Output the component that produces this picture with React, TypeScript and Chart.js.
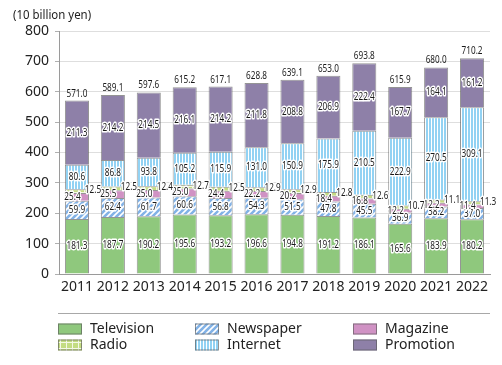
import React, { useEffect, useRef } from "react";
import { Chart, registerables } from "chart.js";
Chart.register(...registerables);

const years = ["2011", "2012", "2013", "2014", "2015", "2016", "2017", "2018", "2019", "2020", "2021", "2022"];
const television = [181.3, 187.7, 190.2, 195.6, 193.2, 196.6, 194.8, 191.2, 186.1, 165.6, 183.9, 180.2];
const newspaper = [59.9, 62.4, 61.7, 60.6, 56.8, 54.3, 51.5, 47.8, 45.5, 36.9, 38.2, 37.0];
const magazine = [25.4, 25.5, 25.0, 25.0, 24.4, 22.2, 20.2, 18.4, 16.8, 12.2, 12.2, 11.4];
const radio = [12.5, 12.5, 12.4, 12.7, 12.5, 12.9, 12.9, 12.8, 12.6, 10.7, 11.1, 11.3];
const internet = [80.6, 86.8, 93.8, 105.2, 115.9, 131.0, 150.9, 175.9, 210.5, 222.9, 270.5, 309.1];
const promotion = [211.3, 214.2, 214.5, 216.1, 214.2, 211.8, 208.8, 206.9, 222.4, 167.7, 164.1, 161.2];
const totals = [571.0, 589.1, 597.6, 615.2, 617.1, 628.8, 639.1, 653.0, 693.8, 615.9, 680.0, 710.2];
const seriesNames = ["Television", "Newspaper", "Magazine", "Radio", "Internet", "Promotion"];
const yTicks = [0, 100, 200, 300, 400, 500, 600, 700, 800];
const unitLabel = "(10 billion yen)";

function tile(w: number, h: number, draw: (c: CanvasRenderingContext2D) => void): CanvasPattern | string {
  const cv = document.createElement("canvas");
  cv.width = w;
  cv.height = h;
  const c = cv.getContext("2d")!;
  draw(c);
  const ctx = document.createElement("canvas").getContext("2d")!;
  return ctx.createPattern(cv, "repeat") || "#888";
}

function drawLabel(ctx: CanvasRenderingContext2D, text: string, x: number, y: number, halo: boolean) {
  ctx.save();
  ctx.translate(x, y);
  ctx.scale(0.78, 1);
  if (halo) {
    ctx.lineWidth = 3;
    ctx.lineJoin = "round";
    ctx.strokeStyle = "#ffffff";
    ctx.strokeText(text, 0, 0);
  }
  ctx.fillStyle = "#1a1a1a";
  ctx.fillText(text, 0, 0);
  ctx.restore();
}

export default function App() {
  const ref = useRef<HTMLCanvasElement>(null);
  useEffect(() => {
    const canvas = ref.current!;
    const tvFill = "#8fc87d";
    const magFill = "#d092c4";
    const promoFill = "#8e80a8";
    const newsFill = tile(6, 6, (c) => {
      c.fillStyle = "#82b2e6";
      c.fillRect(0, 0, 6, 6);
      c.strokeStyle = "#ffffff";
      c.lineWidth = 1.6;
      c.beginPath();
      c.moveTo(0, 6); c.lineTo(6, 0);
      c.moveTo(-1, 1); c.lineTo(1, -1);
      c.moveTo(5, 7); c.lineTo(7, 5);
      c.stroke();
    });
    const netFill = tile(3, 4, (c) => {
      c.fillStyle = "#92d2f3";
      c.fillRect(0, 0, 3, 4);
      c.fillStyle = "#ffffff";
      c.fillRect(2, 0, 1, 4);
    });
    const radioFill = tile(6, 6, (c) => {
      c.fillStyle = "#c4dc82";
      c.fillRect(0, 0, 6, 6);
      c.fillStyle = "#f4f8e6";
      c.fillRect(0, 0, 6, 1);
      c.fillRect(0, 0, 1, 6);
    });
    const fills = [tvFill, newsFill, magFill, radioFill, netFill, promoFill];
    const values = [television, newspaper, magazine, radio, internet, promotion];
    const border = "rgba(90,90,90,0.65)";

    const labelPlugin = {
      id: "labels",
      afterDatasetsDraw(chart: any) {
        const ctx = chart.ctx as CanvasRenderingContext2D;
        ctx.save();
        ctx.font = '10.5px "Noto Sans"';
        ctx.textAlign = "center";
        ctx.textBaseline = "middle";
        chart.data.datasets.forEach((ds: any, di: number) => {
          const meta = chart.getDatasetMeta(di);
          meta.data.forEach((el: any, i: number) => {
            const p = el.getProps(["x", "y", "base", "width"], true);
            let lx = p.x;
            let ly = (p.y + p.base) / 2;
            if (di === 2) lx = p.x - 4.5;
            if (di === 3) { lx = p.x + p.width / 2 + 4; ly -= 1; }
            drawLabel(ctx, (ds.data[i] as number).toFixed(1), lx, ly, true);
          });
        });
        const topMeta = chart.getDatasetMeta(5);
        topMeta.data.forEach((el: any, i: number) => {
          const p = el.getProps(["x", "y"], true);
          drawLabel(ctx, totals[i].toFixed(1), p.x, p.y - 7, false);
        });
        ctx.restore();
      },
      afterDraw(chart: any) {
        const ctx = chart.ctx as CanvasRenderingContext2D;
        ctx.save();
        ctx.font = '13px "Noto Sans"';
        ctx.textAlign = "left";
        ctx.textBaseline = "middle";
        ctx.fillStyle = "#222";
        ctx.translate(13, 15);
        ctx.scale(0.88, 1);
        ctx.fillText(unitLabel, 0, 0);
        ctx.restore();

        ctx.save();
        ctx.strokeStyle = "#a8a8a8";
        ctx.lineWidth = 1;
        ctx.beginPath();
        ctx.moveTo(58, 313.5);
        ctx.lineTo(490, 313.5);
        ctx.stroke();
        const order = [0, 3, 1, 4, 2, 5];
        const cols = [58, 195, 353];
        const rows = [329, 345];
        order.forEach((si, k) => {
          const x = cols[Math.floor(k / 2)];
          const y = rows[k % 2];
          ctx.fillStyle = fills[si] as any;
          ctx.fillRect(x, y - 5.5, 24, 11);
          ctx.strokeStyle = border;
          ctx.strokeRect(x + 0.5, y - 5, 23, 10);
          ctx.fillStyle = "#222";
          ctx.font = '14px "Noto Sans"';
          ctx.textAlign = "left";
          ctx.textBaseline = "middle";
          ctx.fillText(seriesNames[si], x + 32, y);
        });
        ctx.restore();
      },
    };

    const chart = new Chart(canvas, {
      type: "bar",
      data: {
        labels: years,
        datasets: values.map((v, i) => ({
          label: seriesNames[i],
          data: v,
          backgroundColor: fills[i] as any,
          borderColor: border,
          borderWidth: 1,
          barPercentage: 0.67,
          categoryPercentage: 1,
        })),
      },
      options: {
        responsive: false,
        devicePixelRatio: 1,
        animation: false,
        layout: { padding: { top: 31, right: 12, left: 0, bottom: 0 } },
        plugins: { legend: { display: false }, tooltip: { enabled: false } },
        scales: {
          x: {
            stacked: true,
            grid: { display: false, drawTicks: false },
            border: { color: "#9a9a9a" },
            ticks: { font: { family: "Noto Sans", size: 14 }, color: "#222", padding: 5, maxRotation: 0, autoSkip: false },
            afterFit: (s: any) => { s.height = 91; },
          },
          y: {
            stacked: true,
            min: 0,
            max: 800,
            afterBuildTicks: (s: any) => { s.ticks = yTicks.map((v) => ({ value: v })); },
            grid: { color: "#dedede", tickLength: 4, tickColor: "#b0b0b0" },
            border: { color: "#9a9a9a" },
            ticks: { font: { family: "Noto Sans", size: 14 }, color: "#222", padding: 6 },
            afterFit: (s: any) => { s.width = 59; },
          },
        },
      },
      plugins: [labelPlugin],
    });
    return () => chart.destroy();
  }, []);
  return (
    <div style={{ position: "absolute", left: 0, top: 0, width: 502, height: 365 }}>
      <canvas ref={ref} width={502} height={365} style={{ width: 502, height: 365, display: "block" }} />
    </div>
  );
}
